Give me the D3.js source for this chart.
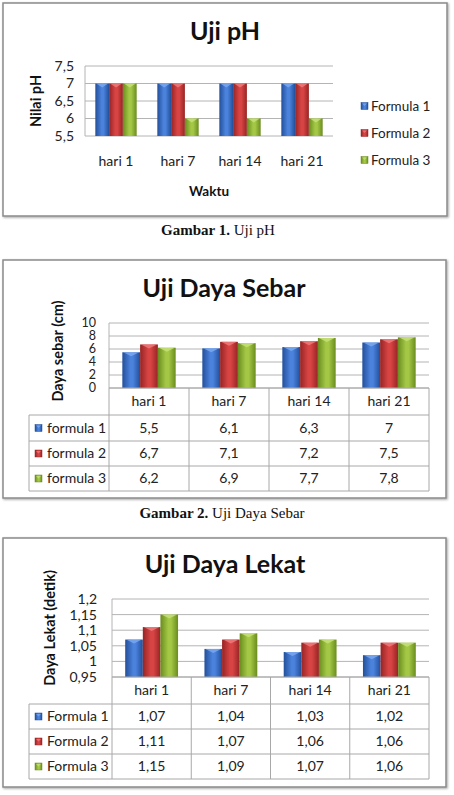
<!DOCTYPE html>
<html><head><meta charset="utf-8">
<script src="https://cdn.jsdelivr.net/npm/d3@7"></script>
<style>body{margin:0;background:#fff}svg{display:block}</style>
</head><body>
<script>
const categories = ["hari 1","hari 7","hari 14","hari 21"];
const seriesPH = ["Formula 1","Formula 2","Formula 3"];
const phF1 = [7,7,7,7];
const phF2 = [7,7,7,7];
const phF3 = [7,6,6,6];
const phTicks = [5.5,6,6.5,7,7.5];

const seriesSebar = ["formula 1","formula 2","formula 3"];
const sebarF1 = [5.5,6.1,6.3,7];
const sebarF2 = [6.7,7.1,7.2,7.5];
const sebarF3 = [6.2,6.9,7.7,7.8];
const sebarTicks = [0,2,4,6,8,10];

const seriesLekat = ["Formula 1","Formula 2","Formula 3"];
const lekatF1 = [1.07,1.04,1.03,1.02];
const lekatF2 = [1.11,1.07,1.06,1.06];
const lekatF3 = [1.15,1.09,1.07,1.06];
const lekatTicks = [0.95,1,1.05,1.1,1.15,1.2];

const colors = [
  {dark:"#234f9a", mid:"#4a82dc", light:"#7aa8ee"},
  {dark:"#962424", mid:"#d84444", light:"#ee7a7a"},
  {dark:"#6a8c1e", mid:"#a4c846", light:"#c6e07a"}
];
const FONT = "Lato, 'Open Sans', sans-serif";
const fmt = v => String(+v.toFixed(2)).replace(".", ",");

const svg = d3.select("body").append("svg").attr("width",454).attr("height",795);
const defs = svg.append("defs");
colors.forEach((c,i)=>{
  const g = defs.append("linearGradient").attr("id","g"+i).attr("x1","0").attr("x2","1").attr("y1","0").attr("y2","0");
  g.append("stop").attr("offset","0").attr("stop-color",c.dark);
  g.append("stop").attr("offset","0.45").attr("stop-color",c.mid);
  g.append("stop").attr("offset","0.6").attr("stop-color",c.mid);
  g.append("stop").attr("offset","1").attr("stop-color",c.dark);
});
const sh = defs.append("filter").attr("id","sh").attr("x","-5%").attr("y","-5%").attr("width","110%").attr("height","110%");
sh.append("feDropShadow").attr("dx",1).attr("dy",1).attr("stdDeviation",0.8).attr("flood-color","#000").attr("flood-opacity",0.35);

function frame(x0,y0,x1,y1){
  svg.append("rect").attr("x",x0).attr("y",y0).attr("width",x1-x0).attr("height",y1-y0)
    .attr("fill","#fff").attr("stroke","#8a8a8a").attr("stroke-width",1.5).attr("filter","url(#sh)");
}
function keySquare(g,x,y,i){
  g.append("rect").attr("x",x).attr("y",y).attr("width",7).attr("height",7).attr("fill","url(#g"+i+")").attr("stroke",colors[i].dark).attr("stroke-width",0.5);
  g.append("path").attr("d",`M${x+1},${y+1}L${x+6},${y+1}L${x+3.5},${y+3.5}Z`).attr("fill",colors[i].light).attr("opacity",0.8);
}
function bars(g, data, x0, y, base){
  const step = x0.step();
  const x1s = d3.scaleBand().domain([0,1,2]).range([step*0.75/4.5, step - step*0.75/4.5]);
  data.forEach((vals,si)=>{
    g.selectAll(null).data(vals).enter().append("g").each(function(v,ci){
      const bx = x0(categories[ci]) + x1s(si), bw = x1s.bandwidth();
      const top = y(v), h = y(base) - top;
      const gg = d3.select(this);
      gg.append("rect").attr("x",bx).attr("y",top).attr("width",bw).attr("height",h).attr("fill","url(#g"+si+")");
      gg.append("path").attr("d",`M${bx+1},${top}L${bx+bw-1},${top}L${bx+bw/2},${top+Math.min(4,h)}Z`).attr("fill",colors[si].light).attr("opacity",0.85);
    });
  });
}
function grid(g, y, ticks, xa, xb){
  g.selectAll(null).data(ticks).enter().append("line")
    .attr("x1",xa).attr("x2",xb).attr("y1",d=>y(d)).attr("y2",d=>y(d)).attr("stroke","#b4b4b4").attr("stroke-width",1);
  g.append("line").attr("x1",xa).attr("x2",xa).attr("y1",y(ticks[0])).attr("y2",y(ticks[ticks.length-1])).attr("stroke","#b4b4b4");
}
function yTicks(g, y, ticks, xr, size){
  g.selectAll(null).data(ticks).enter().append("text").attr("x",xr).attr("y",d=>y(d)).attr("dy","0.35em")
    .attr("text-anchor","end").attr("font-family",FONT).attr("font-size",size).attr("fill","#222").text(d=>fmt(d));
}
function title(t,x,y){
  svg.append("text").attr("x",x).attr("y",y).attr("text-anchor","middle").attr("font-family",FONT)
    .attr("font-weight","bold").attr("font-size",25).attr("fill","#111").text(t);
}
function yLabel(t,x,cy){
  svg.append("text").attr("transform",`translate(${x},${cy}) rotate(-90)`).attr("text-anchor","middle").attr("dy","0.35em")
    .attr("font-family",FONT).attr("font-weight","bold").attr("font-size",14.5).attr("fill","#111").text(t);
}
function caption(b,t,x,y){
  const tx = svg.append("text").attr("x",x).attr("y",y).attr("text-anchor","middle").attr("font-family","'Liberation Serif', serif").attr("font-size",15).attr("fill","#111");
  tx.append("tspan").attr("font-weight","bold").text(b);
  tx.append("tspan").text(" "+t);
}

// ---------- Chart 1: Uji pH ----------
frame(3,3,447,216);
title("Uji pH",225,40);
{
  const g = svg.append("g");
  const x0 = d3.scaleBand().domain(categories).range([85,333]);
  const y = d3.scaleLinear().domain([5.5,7.5]).range([136,66]);
  grid(g,y,phTicks,85,333);
  bars(g,[phF1,phF2,phF3],x0,y,5.5);
  yTicks(g,y,phTicks,74,14);
  g.selectAll(null).data(categories).enter().append("text").attr("x",d=>x0(d)+x0.bandwidth()/2).attr("y",166)
    .attr("text-anchor","middle").attr("font-family",FONT).attr("font-size",14).attr("fill","#222").text(d=>d);
  g.append("text").attr("x",209).attr("y",196).attr("text-anchor","middle").attr("font-family",FONT).attr("font-weight","bold").attr("font-size",13.5).attr("fill","#111").text("Waktu");
  yLabel("Nilai pH",36,101);
  seriesPH.forEach((s,i)=>{
    const yy = 106 + i*27;
    keySquare(g,361,yy-3.5,i);
    g.append("text").attr("x",371).attr("y",yy).attr("dy","0.35em").attr("font-family",FONT).attr("font-size",13.5).attr("fill","#222").text(s);
  });
}
caption("Gambar 1.","Uji pH",218,235);

// ---------- Table chart helper ----------
function tableChart(cfg){
  const g = svg.append("g");
  const x0 = d3.scaleBand().domain(categories).range([cfg.px0,cfg.px1]);
  const y = d3.scaleLinear().domain(cfg.domain).range([cfg.py1,cfg.py0]);
  grid(g,y,cfg.ticks,cfg.px0,cfg.px1);
  bars(g,cfg.data,x0,y,cfg.domain[0]);
  yTicks(g,y,cfg.ticks,cfg.tickX,cfg.tickSize);
  const rows = cfg.rows;
  const lc = "#a8a8a8";
  [cfg.px0,...categories.map(c=>x0(c)+x0.bandwidth())].forEach(xx=>{
    g.append("line").attr("x1",xx).attr("x2",xx).attr("y1",rows[0]).attr("y2",rows[4]).attr("stroke",lc);
  });
  g.append("line").attr("x1",cfg.lx).attr("x2",cfg.lx).attr("y1",rows[1]).attr("y2",rows[4]).attr("stroke",lc);
  rows.forEach((ry,i)=>{
    g.append("line").attr("x1",i===0?cfg.px0:cfg.lx).attr("x2",cfg.px1).attr("y1",ry).attr("y2",ry).attr("stroke",lc);
  });
  categories.forEach(c=>{
    g.append("text").attr("x",x0(c)+x0.bandwidth()/2).attr("y",(rows[0]+rows[1])/2).attr("dy","0.35em")
      .attr("text-anchor","middle").attr("font-family",FONT).attr("font-size",14).attr("fill","#222").text(c);
  });
  cfg.series.forEach((s,si)=>{
    const cy = (rows[si+1]+rows[si+2])/2;
    keySquare(g,cfg.lx+6,cy-3.5,si);
    g.append("text").attr("x",cfg.lx+18).attr("y",cy).attr("dy","0.35em").attr("font-family",FONT).attr("font-size",14).attr("fill","#222").text(s);
    cfg.data[si].forEach((v,ci)=>{
      g.append("text").attr("x",x0(categories[ci])+x0.bandwidth()/2).attr("y",cy).attr("dy","0.35em")
        .attr("text-anchor","middle").attr("font-family",FONT).attr("font-size",14).attr("fill","#222").text(fmt(v));
    });
  });
}

// ---------- Chart 2: Uji Daya Sebar ----------
frame(3,260,446,498);
title("Uji Daya Sebar",224,297);
tableChart({px0:109,px1:429,py0:323,py1:388,domain:[0,10],ticks:sebarTicks,tickX:96,tickSize:12.5,
  data:[sebarF1,sebarF2,sebarF3],series:seriesSebar,rows:[388,415,441,466,491],lx:29});
yLabel("Daya sebar (cm)",58,351);
caption("Gambar 2.","Uji Daya Sebar",222,518);

// ---------- Chart 3: Uji Daya Lekat ----------
frame(3,538,446,787);
title("Uji Daya Lekat",225,573);
tableChart({px0:112,px1:429,py0:599,py1:677,domain:[0.95,1.2],ticks:lekatTicks,tickX:97,tickSize:14,
  data:[lekatF1,lekatF2,lekatF3],series:seriesLekat,rows:[677,704,729,754,779],lx:29});
yLabel("Daya Lekat (detik)",50,628);
caption("Gambar 3.","Uji Daya Lekat",222,805);
</script>
</body></html>
